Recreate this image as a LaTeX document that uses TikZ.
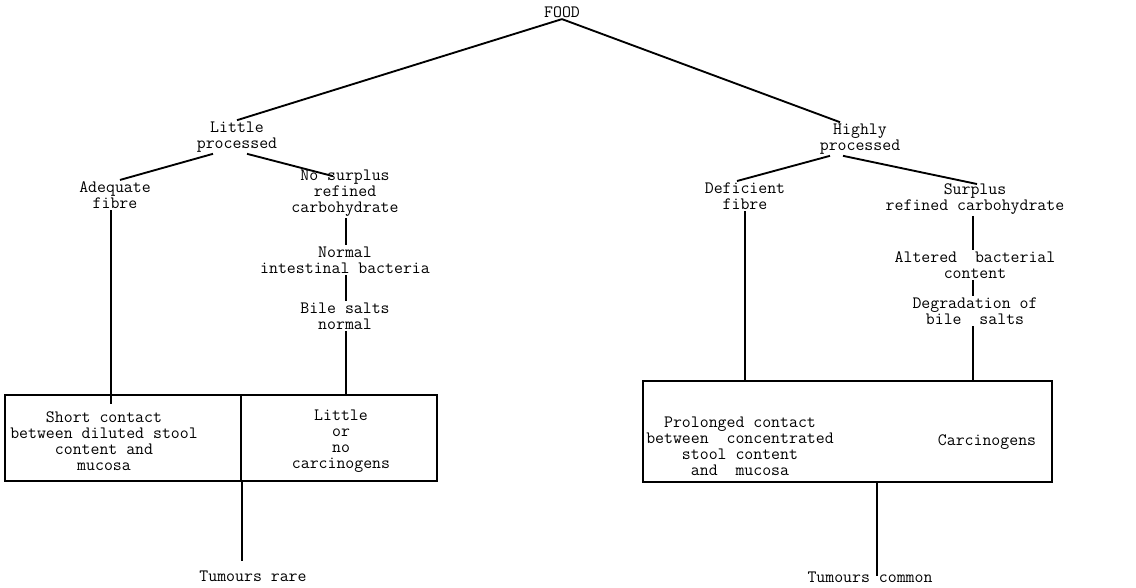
\documentclass[tikz,border=0pt]{standalone}
\usetikzlibrary{calc}
\begin{document}
\begin{tikzpicture}[x=0.75pt,y=-0.75pt,
  txt/.style={align=center,inner sep=1pt,font=\ttfamily\fontsize{13}{12}\selectfont},
  ln/.style={line width=1.4pt},
  cell/.style={draw,line width=1.1pt,inner sep=0pt}]
\useasboundingbox (0,0) rectangle (1136,587);

% text nodes
\node[txt] (food) at (562,12) {FOOD};
\node[txt] (lp) at (237,137) {Little\\processed};
\node[txt] (hp) at (860,139) {Highly\\processed};
\node[txt] (af) at (115,195) {Adequate\\fibre};
\node[txt] (ns) at (345,193) {No surplus\\refined\\carbohydrate};
\node[txt] (nb) at (345,260) {Normal\\intestinal bacteria};
\node[txt] (bs) at (345,316) {Bile salts\\normal};
\node[txt] (df) at (745,196) {Deficient\\fibre};
\node[txt] (sr) at (975,199) {Surplus\\refined carbohydrate};
\node[txt] (ab) at (975,265) {Altered\ \ bacterial\\content};
\node[txt] (db) at (975,311) {Degradation of\\bile\ \ salts};

% boxes
\node[cell,minimum width=236*0.75pt,minimum height=86*0.75pt] (lbox1) at (123,438) {};
\node[cell,minimum width=196*0.75pt,minimum height=86*0.75pt] (lbox2) at (339,438) {};
\node[txt] (lt1) at (104,441) {Short contact\\between diluted stool\\content and\\mucosa};
\node[txt] (lt2) at (341,441) {Little\\or\\no\\carcinogens};
\node[cell,minimum width=409*0.75pt,minimum height=101*0.75pt] (rbox) at (847.5,431.5) {};
\node[txt] (rt1) at (740,446) {Prolonged contact\\between\ \ concentrated\\stool content\\and\ \ mucosa};
\node[txt] (rt2) at (987,442) {Carcinogens};

\node[txt] (tr) at (253,576) {Tumours rare};
\node[txt] (tc) at (870,577) {Tumours common};

% connectors
\draw[ln] (food.south) -- (lp.north);
\draw[ln] (food.south) -- ($(hp.north)+(-20,0)$);
\draw[ln] ($(lp.south)+(-24,0)$) -- ($(af.north)+(5,0)$);
\draw[ln] ($(lp.south)+(10,0)$) -- ($(ns.north)+(-12,8)$);
\draw[ln] ($(hp.south)+(-30,0)$) -- ($(df.north)+(-8,0)$);
\draw[ln] ($(hp.south)+(-17,0)$) -- ($(sr.north)+(2,2)$);

\draw[ln] ($(ns.south)+(1,0)$) -- ($(nb.north)+(1,0)$);
\draw[ln] ($(nb.south)+(1,0)$) -- ($(bs.north)+(1,0)$);
\draw[ln] ($(bs.south)+(1,0)$) -- ($(bs.south |- lbox2.north)+(1,0)$);
\draw[ln] ($(af.south)+(-4,0)$) -- ($(af.south |- lbox1.north)+(-4,10)$);

\draw[ln] ($(sr.south)+(-2,0)$) -- ($(ab.north)+(-2,0)$);
\draw[ln] ($(ab.south)+(-2,0)$) -- ($(db.north)+(-2,0)$);
\draw[ln] ($(db.south)+(-2,0)$) -- ($(db.south |- rbox.north)+(-2,0)$);
\draw[ln] (df.south) -- (df.south |- rbox.north);

\coordinate (trtop) at ($(tr.north)+(-10,-8)$);
\draw[ln] (lbox1.south east) -- (lbox1.south east |- trtop);
\draw[ln] ($(rbox.south)+(29.5,0)$) -- ($(tc.north)+(7,6)$);
\end{tikzpicture}
\end{document}
